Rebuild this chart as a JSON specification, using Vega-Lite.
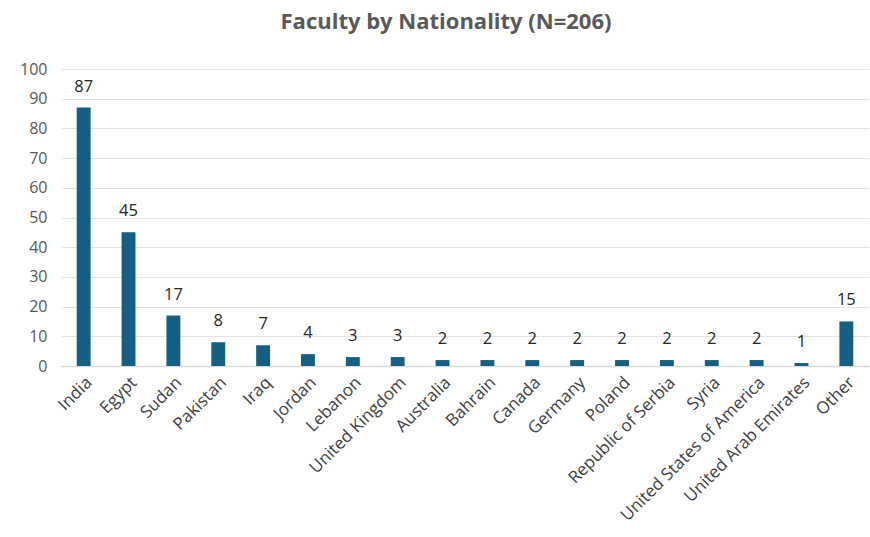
{
  "$schema": "https://vega.github.io/schema/vega-lite/v6.json",
  "autosize": "none",
  "width": 808,
  "height": 297,
  "padding": {"left": 61, "top": 69, "right": 1, "bottom": 171},
  "background": "white",
  "title": {
    "text": "Faculty by Nationality (N=206)",
    "font": "Open Sans",
    "fontSize": 22,
    "fontWeight": "bold",
    "color": "#595959",
    "anchor": "middle",
    "dx": -19,
    "offset": 27
  },
  "data": {
    "values": [
      {"country": "India", "count": 87},
      {"country": "Egypt", "count": 45},
      {"country": "Sudan", "count": 17},
      {"country": "Pakistan", "count": 8},
      {"country": "Iraq", "count": 7},
      {"country": "Jordan", "count": 4},
      {"country": "Lebanon", "count": 3},
      {"country": "United Kingdom", "count": 3},
      {"country": "Australia", "count": 2},
      {"country": "Bahrain", "count": 2},
      {"country": "Canada", "count": 2},
      {"country": "Germany", "count": 2},
      {"country": "Poland", "count": 2},
      {"country": "Republic of Serbia", "count": 2},
      {"country": "Syria", "count": 2},
      {"country": "United States of America", "count": 2},
      {"country": "United Arab Emirates", "count": 1},
      {"country": "Other", "count": 15}
    ]
  },
  "encoding": {
    "x": {
      "field": "country",
      "type": "nominal",
      "sort": null,
      "scale": {"paddingInner": 0.69, "paddingOuter": 0.35},
      "axis": {
        "title": null,
        "labelAngle": -45,
        "labelAlign": "right",
        "labelBaseline": "top",
        "labelFont": "Open Sans",
        "labelFontSize": 17,
        "labelColor": "#404040",
        "labelPadding": 8,
        "labelOverlap": false,
        "labelLimit": 300,
        "ticks": false,
        "domainColor": "#d9d9d9",
        "domainWidth": 1.5
      }
    },
    "y": {
      "field": "count",
      "type": "quantitative",
      "scale": {"domain": [0, 100]},
      "axis": {
        "title": null,
        "values": [0, 10, 20, 30, 40, 50, 60, 70, 80, 90, 100],
        "labelOverlap": false,
        "labelFont": "Open Sans",
        "labelFontSize": 16,
        "labelColor": "#595959",
        "labelPadding": 14,
        "ticks": false,
        "domain": false,
        "gridColor": "#e3e3e3",
        "gridWidth": 1
      }
    }
  },
  "layer": [
    {"mark": {"type": "bar", "color": "#156082"}},
    {
      "mark": {"type": "text", "dy": -21, "font": "Open Sans", "fontSize": 16.5, "color": "#262626"},
      "encoding": {"text": {"field": "count", "type": "quantitative"}}
    }
  ],
  "config": {"view": {"stroke": null}}
}
